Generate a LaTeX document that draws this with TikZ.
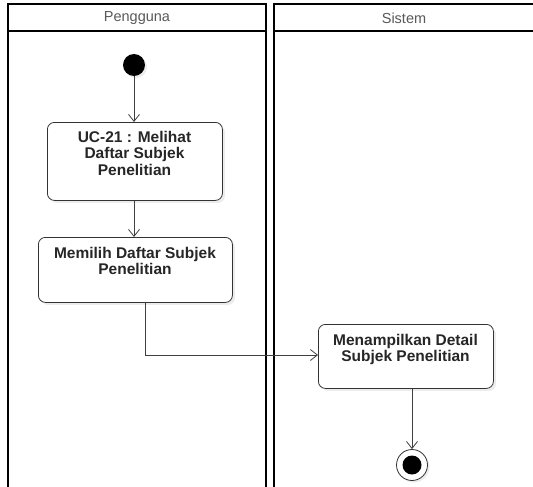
\documentclass[tikz,border=0pt]{standalone}
\usepackage{fontspec}
\setmainfont{Liberation Sans}
\usetikzlibrary{arrows.meta,shadows}
\begin{document}
\begin{tikzpicture}[x=1pt,y=-1pt,
  lane/.style={draw=black,line width=1.6pt},
  hdr/.style={font=\fontsize{14.5}{16}\selectfont,text=black!65},
  act/.style={draw=black!80,line width=0.8pt,rounded corners=7pt,fill=white,
    inner sep=0pt,anchor=north west,
    drop shadow={shadow xshift=2.5pt,shadow yshift=-2.5pt,fill=black!12,opacity=0.6}},
  acttext/.style={anchor=north,align=center,inner sep=0pt,
    font=\bfseries\fontsize{15.5}{16.5}\selectfont,text=black!85},
  flow/.style={draw=black!75,line width=0.8pt,-{Straight Barb[length=7pt,width=11pt]}},
]
\useasboundingbox (0,0) rectangle (533,487);
\fill[white] (0,0) rectangle (533,487);

% swimlanes
\draw[lane] (8,489) -- (8,4) -- (266,4) -- (266,489);
\draw[lane] (8,31) -- (266,31);
\node[hdr] (h1) at (137,18) {Pengguna};
\draw[lane] (274,489) -- (274,4) -- (535,4);
\draw[lane] (274,31) -- (535,31);
\node[hdr] (h2) at (404,18) {Sistem};

% start
\node[circle,fill=black,minimum size=22pt,inner sep=0pt,
  drop shadow={shadow xshift=2pt,shadow yshift=-2pt,fill=black!12,opacity=0.6}] (start) at (134,65) {};

% activities
\node[act,minimum width=175pt,minimum height=78pt] (a1) at (47,122) {};
\node[acttext] (t1) at (134.5,131) {UC-21 : Melihat\\Daftar Subjek\\Penelitian};

\node[act,minimum width=194pt,minimum height=65pt] (a2) at (38,237) {};
\node[acttext] (t2) at (135,247) {Memilih Daftar Subjek\\Penelitian};

\node[act,minimum width=175pt,minimum height=64pt] (a3) at (318,324) {};
\node[acttext] (t3) at (405.5,334) {Menampilkan Detail\\Subjek Penelitian};

% end
\node[circle,draw=black!80,line width=0.8pt,fill=white,minimum size=31pt,inner sep=0pt,
  drop shadow={shadow xshift=2pt,shadow yshift=-2pt,fill=black!12,opacity=0.6}] (end) at (412,465) {};
\node[circle,fill=black,minimum size=19pt,inner sep=0pt] (endc) at (end) {};

% transitions
\draw[flow] (start) -- (start |- a1.north);
\draw[flow] (a1.south -| start) -- (a2.north -| start);
\coordinate (bend) at (145,355);
\draw[flow] (a2.south -| bend) -- (bend) -- (bend -| a3.west);
\draw[flow] (a3.south -| end) -- (end.north);
\end{tikzpicture}
\end{document}
